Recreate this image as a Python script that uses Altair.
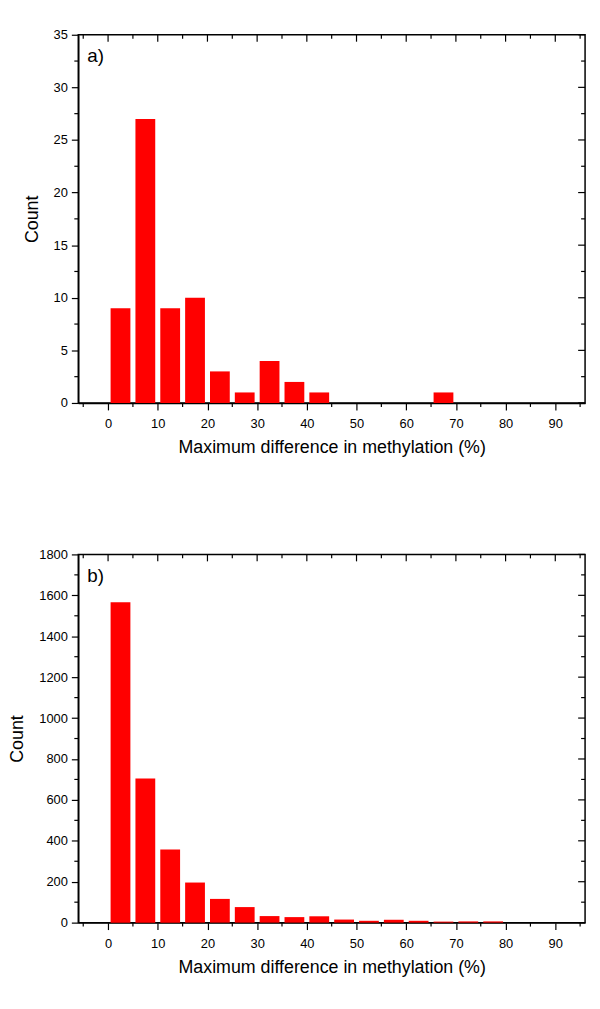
import altair as alt
import pandas as pd

# ---- data ----
bin_start_a = [0, 5, 10, 15, 20, 25, 30, 35, 40, 65]
count_a = [9, 27, 9, 10, 3, 1, 4, 2, 1, 1]

bin_start_b = [0, 5, 10, 15, 20, 25, 30, 35, 40, 45, 50, 55, 60, 65, 70, 75]
count_b = [1566, 705, 357, 196, 116, 76, 32, 27, 31, 15, 9, 14, 9, 5, 6, 6]

x_major = [0, 10, 20, 30, 40, 50, 60, 70, 80, 90]
x_minor = [-5, 5, 15, 25, 35, 45, 55, 65, 75, 85, 95]
ya_major = [0, 5, 10, 15, 20, 25, 30, 35]
ya_minor = [2.5, 7.5, 12.5, 17.5, 22.5, 27.5, 32.5]
yb_major = [0, 200, 400, 600, 800, 1000, 1200, 1400, 1600, 1800]
yb_minor = [100, 300, 500, 700, 900, 1100, 1300, 1500, 1700]

X_TITLE = "Maximum difference in methylation (%)"
Y_TITLE = "Count"
FONT = "Liberation Sans"
W, H = 512, 372
MAJ, MIN = 7, 4


def panel(starts, counts, ymax, ymajor, yminor, label, ytitle_pad):
    xs = alt.Scale(domain=[-5, 95], nice=False, zero=False)
    ys = alt.Scale(domain=[0, ymax], nice=False)
    xaxis = alt.Axis(values=x_major, title=X_TITLE, tickSize=MAJ,
                     labelPadding=8, titlePadding=8, format="d")
    yaxis = alt.Axis(values=ymajor, title=Y_TITLE, tickSize=MAJ,
                     labelPadding=4, titlePadding=ytitle_pad, format="d")
    df = pd.DataFrame({"start": starts, "count": counts})
    bars = alt.Chart(df).transform_calculate(mid="datum.start + 2.5").mark_bar(
        color="#ff0000", size=20
    ).encode(
        x=alt.X("mid:Q", scale=xs, axis=xaxis, title=X_TITLE),
        y=alt.Y("count:Q", scale=ys, axis=yaxis, title=Y_TITLE),
    )

    def xr(vals, y0, y1):
        return alt.Chart(pd.DataFrame({"v": vals})).mark_rule(
            color="#000", strokeWidth=1.2).encode(
            x=alt.X("v:Q", scale=xs, axis=xaxis, title=X_TITLE),
            y=alt.value(y0), y2=alt.value(y1))

    def yr(vals, x0, x1):
        return alt.Chart(pd.DataFrame({"v": vals})).mark_rule(
            color="#000", strokeWidth=1.2).encode(
            y=alt.Y("v:Q", scale=ys, axis=yaxis, title=Y_TITLE),
            x=alt.value(x0), x2=alt.value(x1))

    layers = [
        bars,
        xr(x_minor, H, H + MIN),          # bottom minor (outward)
        xr(x_major, 0, MAJ),              # top major (inward)
        xr(x_minor, 0, MIN),              # top minor (inward)
        yr(yminor, 0, -MIN),              # left minor (outward)
        yr(ymajor, W, W - MAJ),           # right major (inward)
        yr(yminor, W, W - MIN),           # right minor (inward)
    ]
    txt = alt.Chart(pd.DataFrame({"t": [label]})).mark_text(
        align="left", baseline="middle", fontSize=19, font=FONT, color="#000"
    ).encode(text="t:N", x=alt.value(9), y=alt.value(22))
    layers.append(txt)
    return alt.layer(*layers).properties(width=W, height=H)


pa = panel(bin_start_a, count_a, 35, ya_major, ya_minor, "a)", 12)
pb = panel(bin_start_b, count_b, 1800, yb_major, yb_minor, "b)", 12)

chart = alt.vconcat(pa, pb, spacing=91).properties(
    padding={"left": 0, "top": 15, "right": 5, "bottom": 5}
).configure_view(
    stroke="#000", strokeWidth=1.5
).configure_axis(
    labelFont=FONT, titleFont=FONT, labelFontSize=13, titleFontSize=18,
    titleFontWeight="normal", labelColor="#000", titleColor="#000",
    tickColor="#000", tickWidth=1.2, domainColor="#000", domainWidth=1.5,
    grid=False,
)

chart.save("out.html", embed_options={"renderer": "svg", "actions": False})
